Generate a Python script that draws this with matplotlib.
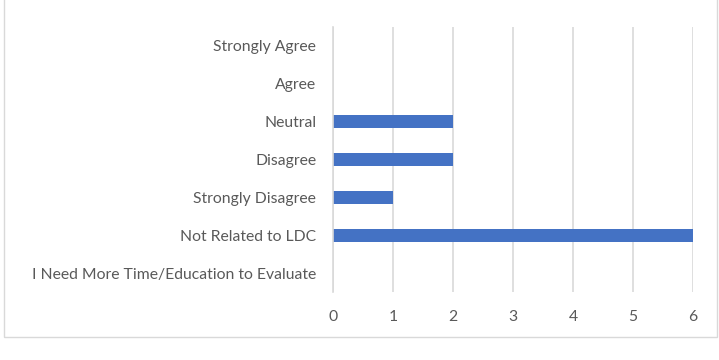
import matplotlib

matplotlib.use("Agg")
import matplotlib.pyplot as plt  # noqa: E402
from matplotlib.patches import Rectangle  # noqa: E402

categories = [
    "Strongly Agree",
    "Agree",
    "Neutral",
    "Disagree",
    "Strongly Disagree",
    "Not Related to LDC",
    "I Need More Time/Education to Evaluate",
]
counts = [0, 0, 2, 2, 1, 6, 0]
x_ticks = [0, 1, 2, 3, 4, 5, 6]

BAR = "#4472C4"
GRID = "#D9D9D9"
TEXT = "#595959"

plt.rcParams["font.family"] = ["Lato", "DejaVu Sans"]

fig = plt.figure(figsize=(7.19, 3.6), dpi=100)
ax = fig.add_axes([333 / 719, 1 - 292 / 360, 360 / 719, 265 / 360])

ypos = list(range(len(categories)))
ax.barh(ypos, counts, height=0.35, color=BAR, zorder=3)
ax.set_ylim(len(categories) - 0.5, -0.5)
ax.set_xlim(0, 6)
ax.set_yticks(ypos)
ax.set_yticklabels(categories, fontsize=11.3, color=TEXT)
ax.set_xticks(x_ticks)
ax.set_xticklabels([str(t) for t in x_ticks], fontsize=11.3, color=TEXT)
ax.tick_params(length=0, pad=13, axis="x")
ax.tick_params(length=0, pad=12, axis="y")
ax.grid(axis="x", color=GRID, lw=1.2, zorder=0)
for s in ("top", "right", "bottom"):
    ax.spines[s].set_visible(False)
ax.spines["left"].set_color(GRID)
ax.spines["left"].set_linewidth(1.2)
ax.spines["left"].set_zorder(4)

fig.patches.append(Rectangle((4 / 719, 1 - 337 / 360), 713 / 719, 337 / 360 + 0.01,
                             transform=fig.transFigure, fill=False,
                             edgecolor="#D9D9D9", lw=1))

fig.savefig("out.png", dpi=100)
